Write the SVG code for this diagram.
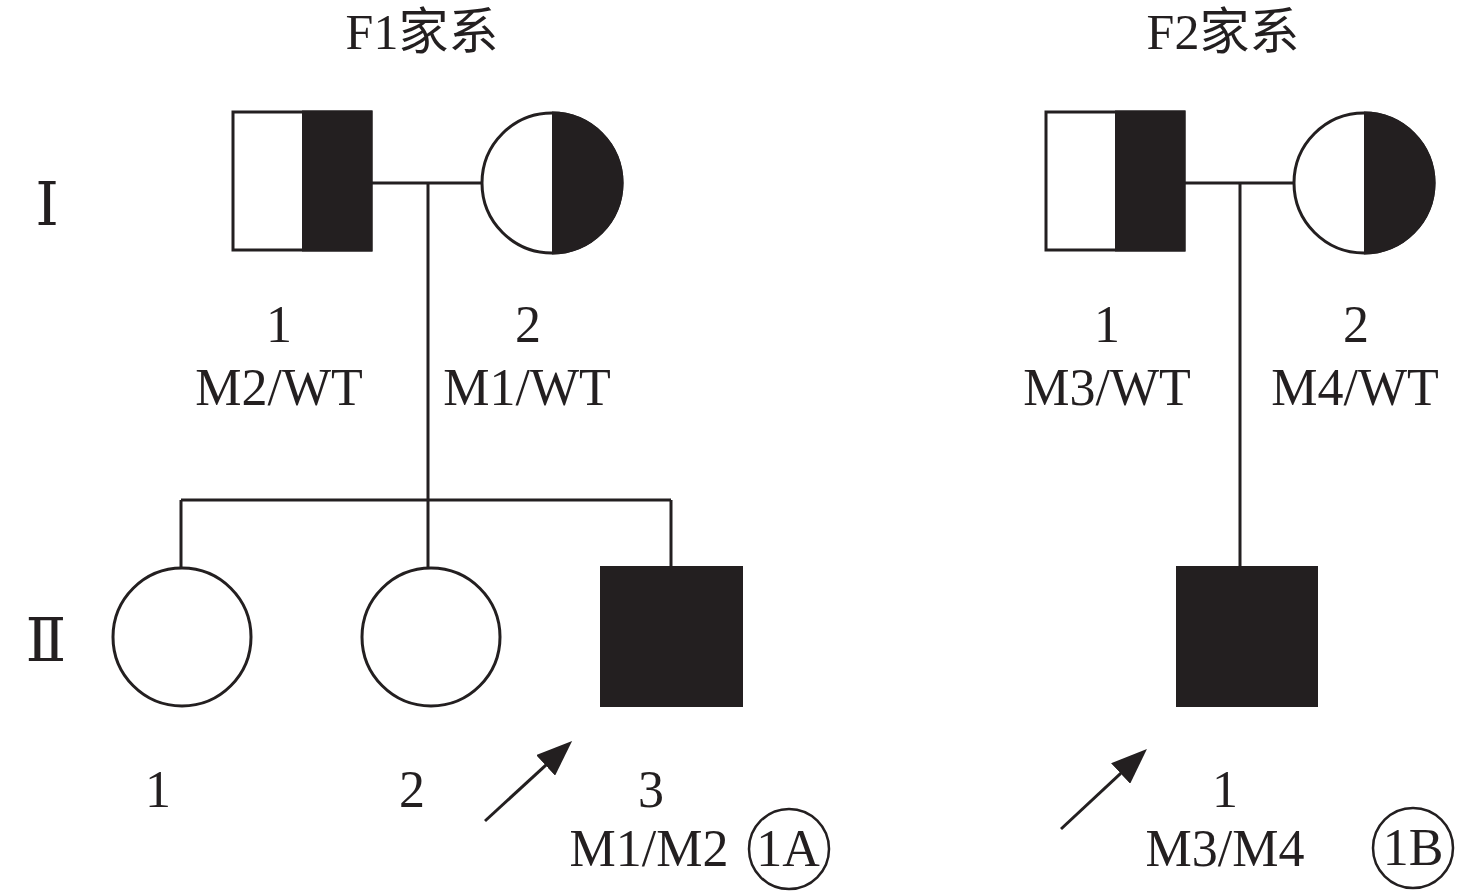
<svg xmlns="http://www.w3.org/2000/svg" width="1476" height="896" viewBox="0 0 1476 896">
<style>
.ln{stroke:#231f20;stroke-width:3;fill:none}
.sh{stroke:#231f20;stroke-width:3;fill:#fff}
.bk{fill:#231f20}
.t{font-family:"Liberation Serif","Times New Roman","Noto Sans CJK SC",serif;font-size:52px;fill:#231f20;text-anchor:middle}
.h{font-size:50px}
.r{font-family:"Liberation Serif","DejaVu Serif","Noto Sans CJK SC",serif;font-size:60px}
.ring{stroke:#231f20;stroke-width:2.5;fill:none}
</style>
<defs>
<marker id="ah" viewBox="0 0 36 28" refX="6" refY="14" markerWidth="36" markerHeight="28" markerUnits="userSpaceOnUse" orient="auto">
<path d="M0,0 L36,14 L0,28 z" fill="#231f20"/>
</marker>
</defs>
<rect width="1476" height="896" fill="#fff"/>
<text class="t h" x="422" y="49">F1家系</text>
<text class="t h" x="1223" y="49">F2家系</text>
<text class="t r" x="47" y="225">Ⅰ</text>
<text class="t r" x="46" y="661">Ⅱ</text>
<g id="connectors">
<line class="ln" x1="372" y1="183" x2="482" y2="183"/>
<line class="ln" x1="428" y1="183" x2="428" y2="567"/>
<line class="ln" x1="181" y1="500" x2="671" y2="500"/>
<line class="ln" x1="181" y1="500" x2="181" y2="567"/>
<line class="ln" x1="671" y1="500" x2="671" y2="567"/>
<line class="ln" x1="1185" y1="183" x2="1294" y2="183"/>
<line class="ln" x1="1240" y1="183" x2="1240" y2="567"/>
<line class="ln" x1="485" y1="821" x2="550" y2="761.3" marker-end="url(#ah)"/>
<line class="ln" x1="1061" y1="829" x2="1125" y2="769.4" marker-end="url(#ah)"/>
</g>
<g id="F1-I-1">
<rect class="sh" x="233" y="112" width="138" height="138"/>
<rect class="bk" x="302" y="110.5" width="70.5" height="141"/>
<text class="t" x="279" y="342">1</text>
<text class="t" x="279" y="405">M2/WT</text>
</g>
<g id="F1-I-2">
<circle class="sh" cx="552" cy="183" r="70"/>
<path class="bk" d="M552,111.5 A71.5,71.5 0 0 1 552,254.5 Z"/>
<text class="t" x="528" y="342">2</text>
<text class="t" x="527" y="405">M1/WT</text>
</g>
<g id="F1-II-1">
<circle class="sh" cx="182" cy="637" r="69"/>
<text class="t" x="158" y="807">1</text>
</g>
<g id="F1-II-2">
<circle class="sh" cx="431" cy="637" r="69"/>
<text class="t" x="412" y="807">2</text>
</g>
<g id="F1-II-3">
<rect class="bk" x="600" y="566" width="143" height="141"/>
<text class="t" x="651" y="807">3</text>
<text class="t" x="649" y="866">M1/M2</text>
</g>
<g id="label-1A">
<circle class="ring" cx="789" cy="849" r="40"/>
<text class="t" x="788" y="866">1A</text>
</g>
<g id="F2-I-1">
<rect class="sh" x="1046" y="112" width="138" height="138"/>
<rect class="bk" x="1115" y="110.5" width="70.5" height="141"/>
<text class="t" x="1107" y="342">1</text>
<text class="t" x="1107" y="405">M3/WT</text>
</g>
<g id="F2-I-2">
<circle class="sh" cx="1364" cy="183" r="70"/>
<path class="bk" d="M1364,111.5 A71.5,71.5 0 0 1 1364,254.5 Z"/>
<text class="t" x="1356" y="342">2</text>
<text class="t" x="1355" y="405">M4/WT</text>
</g>
<g id="F2-II-1">
<rect class="bk" x="1176" y="566" width="142" height="141"/>
<text class="t" x="1225" y="807">1</text>
<text class="t" x="1225" y="866">M3/M4</text>
</g>
<g id="label-1B">
<circle class="ring" cx="1413" cy="848" r="40"/>
<text class="t" x="1413" y="865">1B</text>
</g>
</svg>
